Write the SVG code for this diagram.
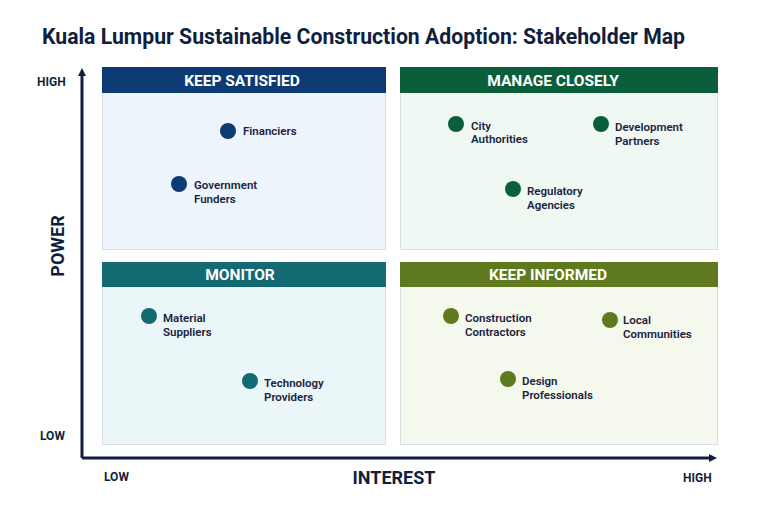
<svg xmlns="http://www.w3.org/2000/svg" width="768" height="512" viewBox="0 0 768 512">
<style>
.title{font-family:Roboto,"Liberation Sans",sans-serif;font-weight:700;font-size:22px;fill:#0f1f3d}
.hdr{font-family:Roboto,"Liberation Sans",sans-serif;font-weight:700;font-size:15.5px;fill:#ffffff;text-anchor:middle}
.lbl{font-family:Roboto,"Liberation Sans",sans-serif;font-weight:600;font-size:11.5px;fill:#1a2340}
.ax{font-family:Roboto,"Liberation Sans",sans-serif;font-weight:700;font-size:12px;fill:#0f1f3d}
.axt{font-family:Roboto,"Liberation Sans",sans-serif;font-weight:700;font-size:18px;fill:#0f1f3d;text-anchor:middle}
.body{stroke:#d9dee4;stroke-width:1}
</style>
<defs>
<marker id="arr" markerWidth="8" markerHeight="8" refX="4" refY="4" orient="auto" markerUnits="userSpaceOnUse" viewBox="0 0 8 8">
<path d="M0,0 L8,4 L0,8 z" fill="#0f1f3d"/>
</marker>
</defs>
<rect width="768" height="512" fill="#ffffff"/>
<text class="title" x="42" y="44" textLength="643" lengthAdjust="spacingAndGlyphs">Kuala Lumpur Sustainable Construction Adoption: Stakeholder Map</text>

<g id="keep-satisfied">
<rect class="body" x="102.5" y="67.5" width="283" height="182" fill="#eef4fb"/>
<rect x="102" y="67" width="284" height="26" fill="#0d3a73"/>
<text class="hdr" x="242" y="86">KEEP SATISFIED</text>
</g>
<g id="manage-closely">
<rect class="body" x="400.5" y="67.5" width="317" height="182" fill="#f0f8f4"/>
<rect x="400" y="67" width="318" height="26" fill="#0b5e3a"/>
<text class="hdr" x="553" y="86">MANAGE CLOSELY</text>
</g>
<g id="monitor">
<rect class="body" x="102.5" y="262.5" width="283" height="182" fill="#eaf6f7"/>
<rect x="102" y="262" width="284" height="25" fill="#136a72"/>
<text class="hdr" x="240" y="280">MONITOR</text>
</g>
<g id="keep-informed">
<rect class="body" x="400.5" y="262.5" width="317" height="182" fill="#f5f8ec"/>
<rect x="400" y="262" width="318" height="25" fill="#5f7a1e"/>
<text class="hdr" x="548" y="280">KEEP INFORMED</text>
</g>

<g id="connectors">
<path d="M82,458 L82,72" stroke="#0f1f3d" stroke-width="3" fill="none" marker-end="url(#arr)"/>
<path d="M82,458 L713,458" stroke="#0f1f3d" stroke-width="3" fill="none" marker-end="url(#arr)"/>
</g>

<g id="axis-labels">
<text class="ax" x="37" y="86">HIGH</text>
<text class="ax" x="40" y="440">LOW</text>
<text class="axt" transform="translate(64,246) rotate(-90)">POWER</text>
<text class="ax" x="104" y="481">LOW</text>
<text class="axt" x="394" y="484">INTEREST</text>
<text class="ax" x="683" y="482">HIGH</text>
</g>

<g id="financiers"><circle cx="228" cy="131" r="8" fill="#0d3a73"/><text class="lbl" x="243" y="135">Financiers</text></g>
<g id="government-funders"><circle cx="179" cy="184" r="8" fill="#0d3a73"/><text class="lbl" x="194" y="189">Government</text><text class="lbl" x="194" y="203">Funders</text></g>

<g id="city-authorities"><circle cx="456" cy="124" r="8" fill="#0b5e3a"/><text class="lbl" x="471" y="130">City</text><text class="lbl" x="471" y="143">Authorities</text></g>
<g id="development-partners"><circle cx="601" cy="124" r="8" fill="#0b5e3a"/><text class="lbl" x="615" y="131">Development</text><text class="lbl" x="615" y="145">Partners</text></g>
<g id="regulatory-agencies"><circle cx="513" cy="189" r="8" fill="#0b5e3a"/><text class="lbl" x="527" y="195">Regulatory</text><text class="lbl" x="527" y="209">Agencies</text></g>

<g id="material-suppliers"><circle cx="149" cy="316" r="8" fill="#136a72"/><text class="lbl" x="163" y="322">Material</text><text class="lbl" x="163" y="336">Suppliers</text></g>
<g id="technology-providers"><circle cx="250" cy="381" r="8" fill="#136a72"/><text class="lbl" x="264" y="387">Technology</text><text class="lbl" x="264" y="401">Providers</text></g>

<g id="construction-contractors"><circle cx="451" cy="316" r="8" fill="#5f7a1e"/><text class="lbl" x="465" y="322">Construction</text><text class="lbl" x="465" y="336">Contractors</text></g>
<g id="local-communities"><circle cx="610" cy="320" r="8" fill="#5f7a1e"/><text class="lbl" x="623" y="324">Local</text><text class="lbl" x="623" y="338">Communities</text></g>
<g id="design-professionals"><circle cx="508" cy="379" r="8" fill="#5f7a1e"/><text class="lbl" x="522" y="385">Design</text><text class="lbl" x="522" y="399">Professionals</text></g>
</svg>
